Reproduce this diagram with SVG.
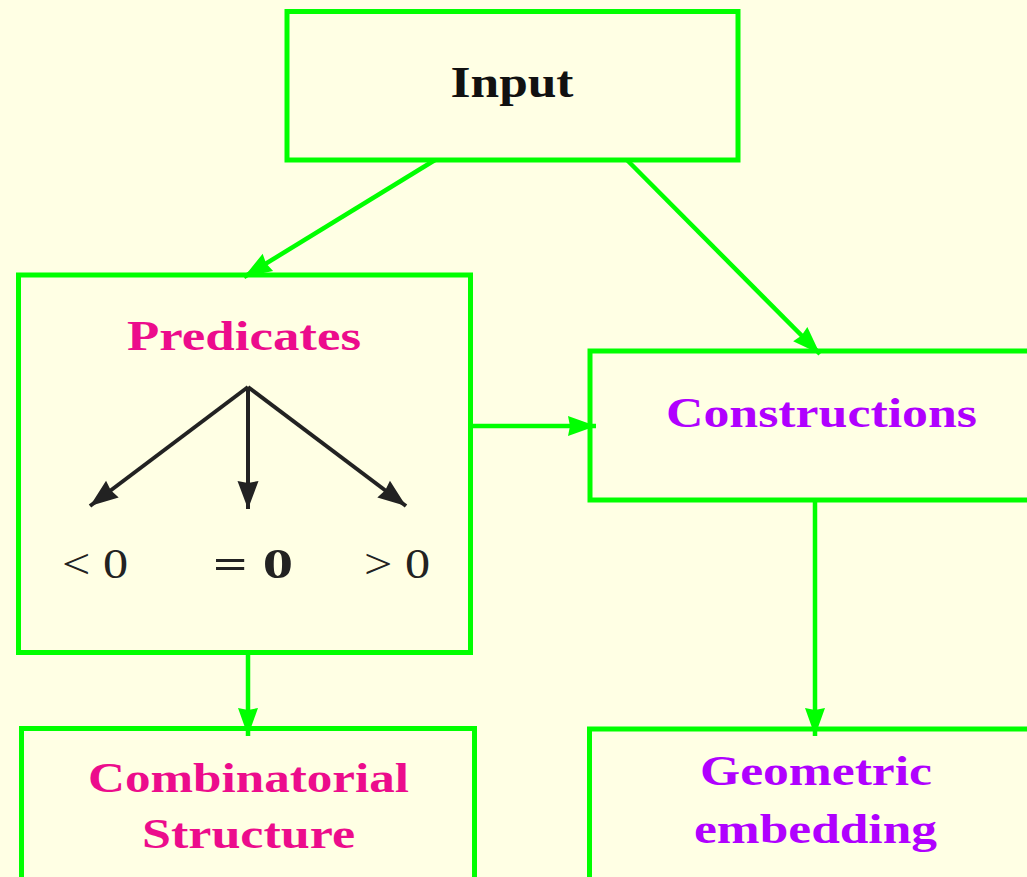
<svg xmlns="http://www.w3.org/2000/svg" width="1027" height="877" viewBox="0 0 1027 877">
<defs>
<marker id="ga" markerUnits="userSpaceOnUse" markerWidth="30" markerHeight="22" refX="28" refY="10" orient="auto" overflow="visible">
<path d="M0,0 L28,10 L0,20 L2,10 z" fill="#00ff00"/>
</marker>
<marker id="ba" markerUnits="userSpaceOnUse" markerWidth="30" markerHeight="22" refX="28" refY="10.5" orient="auto" overflow="visible">
<path d="M0,0 L28,10.5 L0,21 L2,10.5 z" fill="#222222"/>
</marker>
<style>
.box{fill:none;stroke:#00ff00;stroke-width:5}
.g{stroke:#00ff00;stroke-width:4.5;fill:none;marker-end:url(#ga)}
.b{stroke:#222222;stroke-width:4;fill:none;marker-end:url(#ba)}
.t{font-family:"Liberation Serif",serif;font-weight:bold;text-anchor:middle}
.pk{fill:#ec0c8c}
.pu{fill:#b000ff}
.m{font-family:"Liberation Serif",serif;font-size:42px;fill:#222222;text-anchor:middle}
</style>
</defs>
<rect width="1027" height="877" fill="#ffffe4"/>
<g id="connectors">
<line class="g" x1="435" y1="160" x2="244" y2="277"/>
<line class="g" x1="627" y1="160" x2="820" y2="354"/>
<line class="g" x1="471" y1="426" x2="596" y2="426"/>
<line class="g" x1="248" y1="652" x2="248" y2="736"/>
<line class="g" x1="815" y1="500" x2="815" y2="736"/>
</g>
<g id="input">
<rect class="box" x="287" y="11.5" width="451" height="148.5"/>
<text class="t" x="512" y="97" font-size="44" textLength="123" lengthAdjust="spacingAndGlyphs" fill="#111111">Input</text>
</g>
<g id="predicates">
<rect class="box" x="18.5" y="275" width="452" height="377.5"/>
<text class="t pk" x="244" y="350" font-size="43" textLength="234" lengthAdjust="spacingAndGlyphs">Predicates</text>
<g id="predicate-arrows">
<line class="b" x1="248" y1="387" x2="90" y2="506"/>
<line class="b" x1="248" y1="387" x2="248" y2="509"/>
<line class="b" x1="248" y1="387" x2="406" y2="506"/>
</g>
<text class="m" x="95" y="578" textLength="66" lengthAdjust="spacingAndGlyphs">&lt; 0</text>
<text class="m" x="253" y="578" font-weight="bold" textLength="80" lengthAdjust="spacingAndGlyphs">= 0</text>
<text class="m" x="397" y="578" textLength="66" lengthAdjust="spacingAndGlyphs">&gt; 0</text>
</g>
<g id="constructions">
<rect class="box" x="590" y="351" width="445" height="149"/>
<text class="t pu" x="821.5" y="427" font-size="43" textLength="311" lengthAdjust="spacingAndGlyphs">Constructions</text>
</g>
<g id="combinatorial">
<rect class="box" x="21.5" y="728.5" width="453" height="160"/>
<text class="t pk" x="248.5" y="792" font-size="43" textLength="321" lengthAdjust="spacingAndGlyphs">Combinatorial</text>
<text class="t pk" x="248.5" y="848" font-size="43" textLength="213" lengthAdjust="spacingAndGlyphs">Structure</text>
</g>
<g id="geometric">
<rect class="box" x="589.5" y="729" width="445" height="160"/>
<text class="t pu" x="816" y="785" font-size="43" textLength="232" lengthAdjust="spacingAndGlyphs">Geometric</text>
<text class="t pu" x="815.5" y="843" font-size="43" textLength="243" lengthAdjust="spacingAndGlyphs">embedding</text>
</g>
</svg>
